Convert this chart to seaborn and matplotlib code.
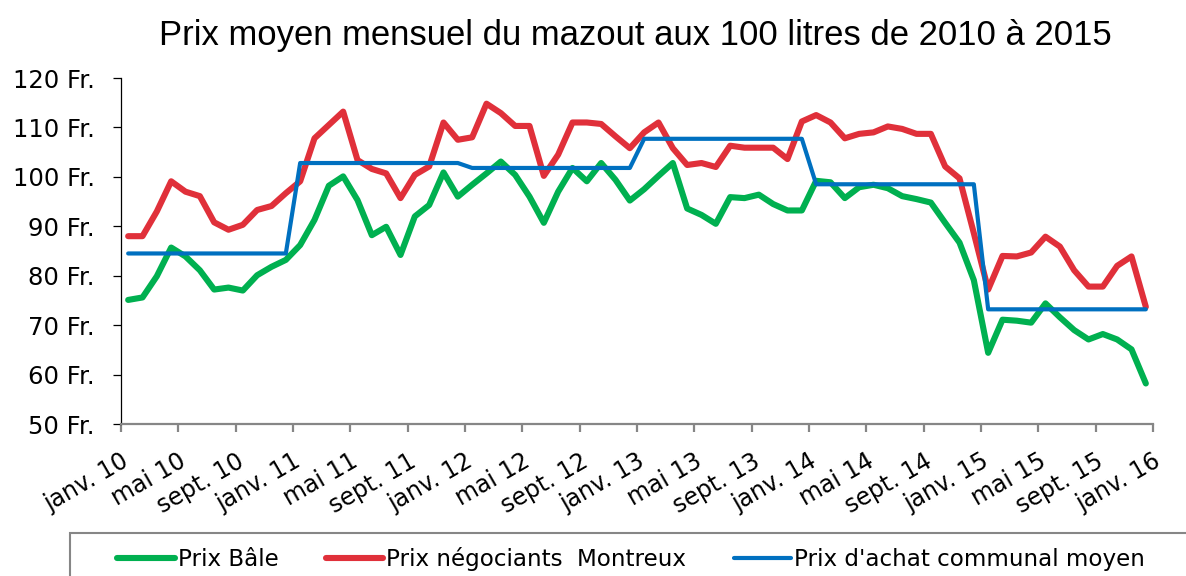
import numpy as np
import pandas as pd
import matplotlib
matplotlib.use('Agg')
import matplotlib.pyplot as plt
import matplotlib.transforms as mtransforms
from matplotlib.patches import Rectangle
import seaborn as sns

# données mensuelles janv. 2010 - déc. 2015
tick_labels = ['janv. 10', 'mai 10', 'sept. 10', 'janv. 11', 'mai 11', 'sept. 11',
               'janv. 12', 'mai 12', 'sept. 12', 'janv. 13', 'mai 13', 'sept. 13',
               'janv. 14', 'mai 14', 'sept. 14', 'janv. 15', 'mai 15', 'sept. 15',
               'janv. 16']

prix_bale = [75.1, 75.6, 79.9, 85.7, 83.9, 81.1, 77.2, 77.6, 77.0, 80.1, 81.8, 83.2,
             86.2, 91.3, 98.2, 100.1, 95.3, 88.2, 89.9, 84.2, 92.0, 94.3, 100.9, 96.0,
             98.4, 100.7, 103.1, 100.4, 96.0, 90.7, 97.0, 101.8, 99.1, 102.8, 99.4, 95.2,
             97.5, 100.2, 102.8, 93.6, 92.3, 90.5, 95.9, 95.7, 96.4, 94.5, 93.2, 93.2,
             99.2, 98.9, 95.7, 97.9, 98.4, 97.7, 96.1, 95.5, 94.8, 90.7, 86.7, 79.1,
             64.4, 71.1, 70.9, 70.5, 74.4, 71.6, 69.0, 67.1, 68.2, 67.1, 65.1, 58.2]

prix_montreux = [88.0, 88.0, 93.0, 99.1, 97.0, 96.1, 90.8, 89.3, 90.3, 93.3, 94.1, 96.7,
                 99.1, 107.8, 110.5, 113.2, 103.4, 101.6, 100.7, 95.7, 100.4, 102.1, 111.0, 107.5,
                 108.0, 114.8, 112.9, 110.3, 110.3, 100.2, 104.5, 111.0, 111.0, 110.7, 108.2, 105.8,
                 109.0, 111.0, 105.8, 102.4, 102.8, 102.0, 106.3, 105.9, 105.9, 105.9, 103.6, 111.2,
                 112.5, 111.0, 107.8, 108.7, 109.0, 110.2, 109.7, 108.7, 108.7, 102.1, 99.7, 88.6,
                 77.2, 84.0, 83.9, 84.7, 87.9, 85.9, 81.1, 77.8, 77.8, 82.0, 83.9, 73.7]

# prix d'achat communal moyen : une valeur par année
prix_communal_annuel = [84.5, 102.8, 101.8, 107.7, 98.5, 73.2]

prix_communal = np.repeat(prix_communal_annuel, 12)
mois = np.arange(len(prix_bale)) + 0.5

df = pd.DataFrame({'mois': mois, 'bale': prix_bale,
                   'montreux': prix_montreux, 'communal': prix_communal})

sns.set_style('white')
plt.rcParams['font.family'] = ['DejaVu Sans']
plt.rcParams['text.color'] = 'black'
plt.rcParams['xtick.labelcolor'] = 'black'
plt.rcParams['ytick.labelcolor'] = 'black'

fig = plt.figure(figsize=(11.86, 5.76), dpi=100)
ax = fig.add_axes([121 / 1186, 1 - 424 / 576, (1153 - 121) / 1186, (424 - 78) / 576])

sns.lineplot(data=df, x='mois', y='bale', ax=ax, color='#00B050', linewidth=4.4,
             label='Prix Bâle')
sns.lineplot(data=df, x='mois', y='montreux', ax=ax, color='#E0303A', linewidth=4.4,
             label='Prix négociants  Montreux')
sns.lineplot(data=df, x='mois', y='communal', ax=ax, color='#0070C0', linewidth=3.0,
             label="Prix d'achat communal moyen")

ax.set_xlim(0, 72)
ax.set_ylim(50, 120)
ax.set_xticks(np.arange(0, 73, 4))
ax.set_xticklabels(tick_labels, rotation=30, ha='right', va='top', rotation_mode='anchor',
                   fontsize=17, color='black')
offset = mtransforms.ScaledTranslation(0.10, 0, fig.dpi_scale_trans)
for lab in ax.get_xticklabels():
    lab.set_transform(lab.get_transform() + offset)
ax.set_yticks(np.arange(50, 121, 10))
ax.set_yticklabels([f'{v} Fr.' for v in range(50, 121, 10)], fontsize=17.5, color='black')
ax.set_xlabel('')
ax.set_ylabel('')

for s in ['top', 'right']:
    ax.spines[s].set_visible(False)
ax.spines['left'].set_color('black')
ax.spines['left'].set_linewidth(0.9)
ax.spines['bottom'].set_color('#868686')
ax.spines['bottom'].set_linewidth(1.6)
ax.tick_params(axis='y', left=True, length=6, width=0.9, color='black', pad=13)
ax.tick_params(axis='x', bottom=True, length=6, width=1.6, color='#868686', pad=12)

handles, labels = ax.get_legend_handles_labels()
ax.get_legend().remove()

fig.text(635 / 1186, 1 - 36 / 576,
         'Prix moyen mensuel du mazout aux 100 litres de 2010 à 2015',
         ha='center', va='center', fontsize=24.9, family='Liberation Sans', color='black')

fig.legend(handles, labels, loc='center left', bbox_to_anchor=(117 / 1186, 1 - 559 / 576),
           ncol=3, frameon=False, fontsize=16.6, handlelength=2.5, handletextpad=0.13,
           columnspacing=2.05, borderpad=0, borderaxespad=0)
fig.patches.append(Rectangle((70 / 1186, -0.2), 1.2, 0.2 + 1 - 533 / 576,
                             transform=fig.transFigure, fill=False,
                             edgecolor='#868686', linewidth=1.5))

fig.savefig('out.png', dpi=100)
